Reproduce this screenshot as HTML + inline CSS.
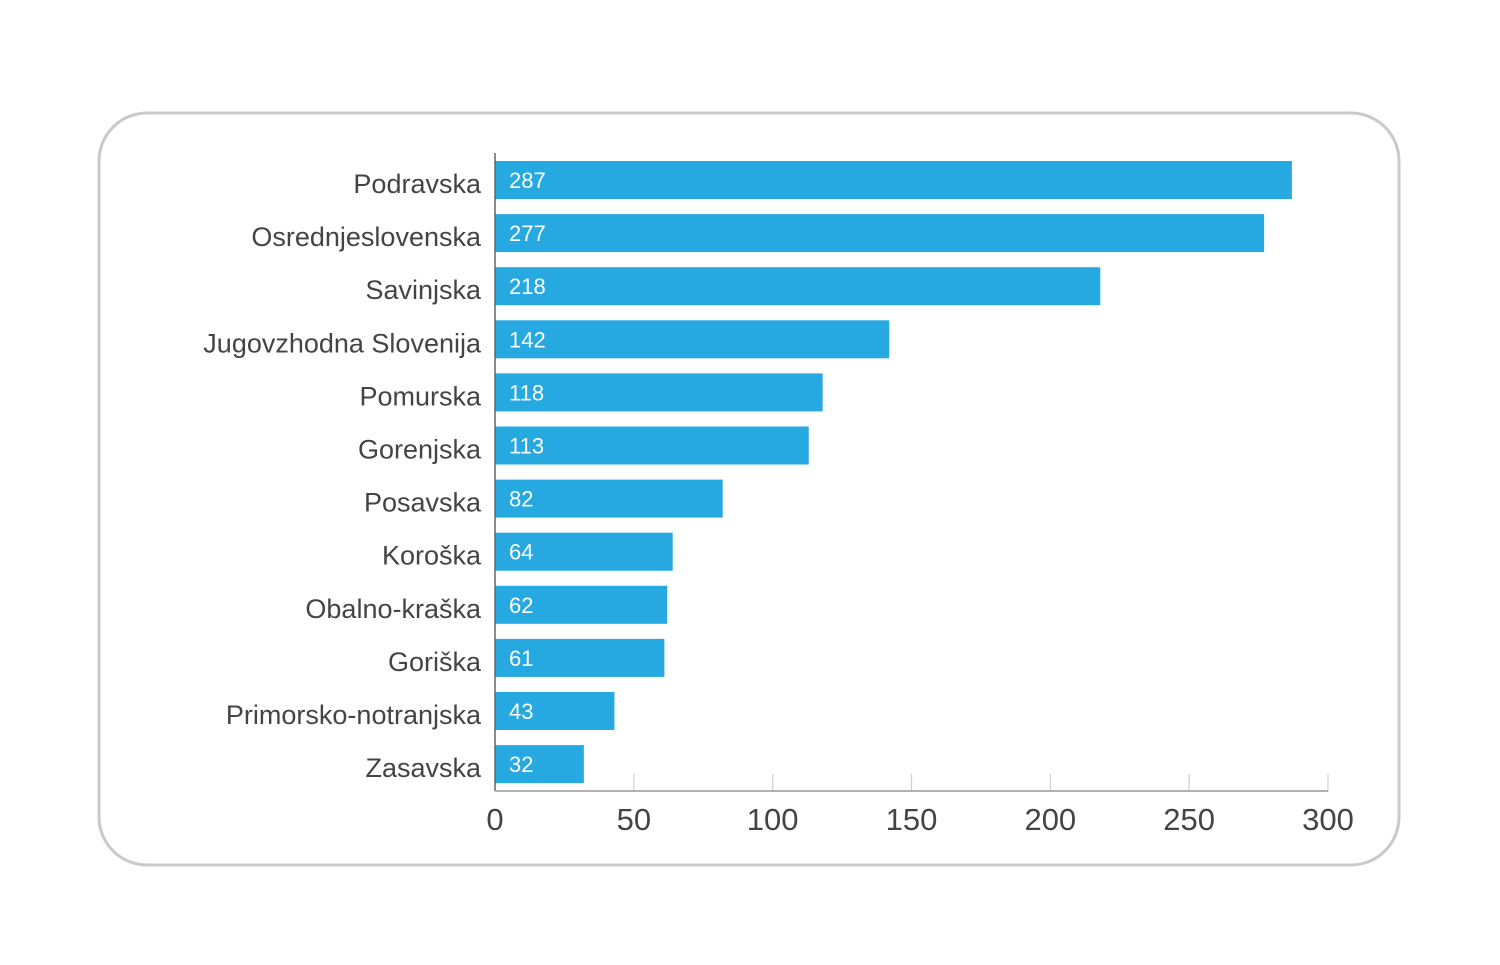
<!DOCTYPE html>
<html><head><meta charset="utf-8"><style>
body{margin:0;background:#fff;}
svg{display:block;font-family:"Liberation Sans",sans-serif;}
</style></head><body>
<svg width="1500" height="965" viewBox="0 0 1500 965">
<rect x="99" y="113" width="1300" height="752" rx="48" fill="none" stroke="#c9c9c9" stroke-width="3"/>
<g id="grid"></g>
<g id="bars"></g>
<g id="axes"></g>
</svg>
<script>
const categories=["Podravska","Osrednjeslovenska","Savinjska","Jugovzhodna Slovenija","Pomurska","Gorenjska","Posavska","Koroška","Obalno-kraška","Goriška","Primorsko-notranjska","Zasavska"];
const values=[287,277,218,142,118,113,82,64,62,61,43,32];
const ticks=[0,50,100,150,200,250,300];
const NS="http://www.w3.org/2000/svg";
const x0=495,x1=1328,xmax=300,yTop=161,pitch=53.1,barH=38,axisY=791;
function xs(v){return x0+(v/xmax)*(x1-x0);}
function ys(i){return yTop+i*pitch;}
function mk(t,a,p){const e=document.createElementNS(NS,t);for(const k in a)e.setAttribute(k,a[k]);p.appendChild(e);return e;}
const grid=document.getElementById('grid'),bars=document.getElementById('bars'),axes=document.getElementById('axes');
ticks.forEach(t=>{
  if(t>0){const l=mk('line',{x1:xs(t),x2:xs(t),y1:774,y2:axisY,stroke:'#d0d0d0','stroke-width':1.2},grid);
  
  }
  const tx=mk('text',{x:xs(t),y:830,'text-anchor':'middle','font-size':31,fill:'#444'},axes);
  tx.textContent=t;
  
  
});
categories.forEach((c,i)=>{
  const y=ys(i);
  const r=mk('rect',{x:x0,y:y,width:xs(values[i])-x0,height:barH,fill:'#26a8e0'},bars);
  
  
  const v=mk('text',{x:509,y:y+27,'font-size':22,fill:'#fff'},bars);
  v.textContent=values[i];
  
  
  const lb=mk('text',{x:481,y:y+32,'text-anchor':'end','font-size':27,fill:'#444'},axes);
  lb.textContent=c;
  
  
});
const va=mk('line',{x1:x0,x2:x0,y1:153,y2:axisY,stroke:'#666','stroke-width':1.5},axes);


const ha=mk('line',{x1:x0,x2:x1,y1:axisY,y2:axisY,stroke:'#999','stroke-width':1.5},axes);


</script>
</body></html>
